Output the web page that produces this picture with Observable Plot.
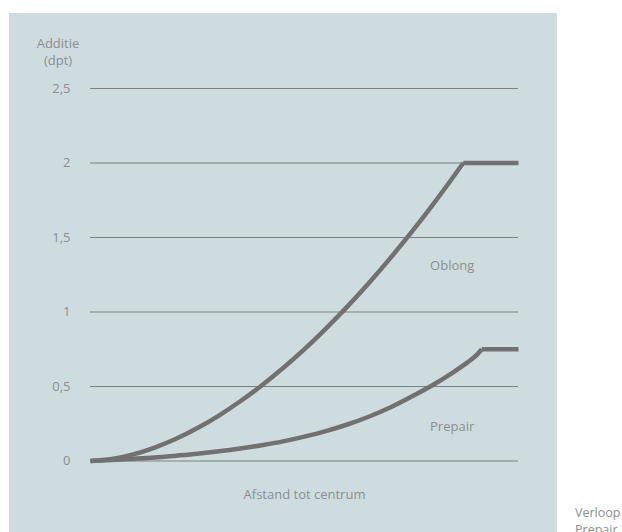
<!DOCTYPE html>
<html>
<head>
<meta charset="utf-8">
<script src="https://cdn.jsdelivr.net/npm/d3@7"></script>
<script src="https://cdn.jsdelivr.net/npm/@observablehq/plot@0.6"></script>
<style>
  html, body { margin: 0; padding: 0; background: #fff; width: 622px; height: 532px; overflow: hidden; }
  body { position: relative; font-family: "Open Sans", Lato, sans-serif; }
  #panel { position: absolute; left: 9px; top: 13px; width: 548px; height: 519px; background: #cfdcdf; }
  #ylabel { position: absolute; left: 14px; top: 22px; width: 70px; text-align: center; font-size: 13px; line-height: 17px; color: #8a8f91; }
  #side { position: absolute; left: 575px; top: 504px; font-size: 12.5px; line-height: 17px; color: #8a8f91; white-space: nowrap; }
</style>
</head>
<body>
<div id="panel"><div id="ylabel">Additie<br>(dpt)</div></div>
<div id="side">Verloop<br>Prepair</div>
<script>
// distance to centre (relative, 0–100) and addition (dpt)
const distanceOblong  = [0, 5, 10, 15, 20, 25, 30, 35, 40, 45, 50, 55, 60, 65, 70, 75, 80, 85, 87.1, 100];
const oblong          = [0, 0.013, 0.044, 0.09, 0.149, 0.221, 0.305, 0.401, 0.507, 0.624, 0.751, 0.889, 1.036, 1.193, 1.36, 1.536, 1.721, 1.916, 2.0, 2.0];
const distancePrepair = [0, 5, 10, 15, 20, 25, 30, 35, 40, 45, 50, 55, 60, 65, 70, 75, 80, 85, 88, 90, 91.4, 100];
const prepair         = [0, 0.007, 0.015, 0.024, 0.036, 0.049, 0.065, 0.084, 0.106, 0.132, 0.164, 0.201, 0.245, 0.297, 0.359, 0.432, 0.51, 0.6, 0.66, 0.705, 0.75, 0.75];
const yTicks = [0, 0.5, 1, 1.5, 2, 2.5];
const yTickLabels = ["0", "0,5", "1", "1,5", "2", "2,5"];
const seriesNames = ["Oblong", "Prepair"];
const seriesLabelPos = [{x: 84.5, y: 1.307}, {x: 84.5, y: 0.23}];
const xAxisTitle = "Afstand tot centrum";

// split each series into its rising part and its flat part (sharing the corner point)
function segments(name, xs, ys) {
  const out = [];
  const top = Math.max(...ys);
  const k = ys.indexOf(top);
  xs.forEach((d, i) => {
    if (i <= k) out.push({series: name, seg: name + "-rise", x: d, y: ys[i]});
    if (i >= k) out.push({series: name, seg: name + "-flat", x: d, y: ys[i]});
  });
  return out;
}
const rows = [
  ...segments("Oblong", distanceOblong, oblong),
  ...segments("Prepair", distancePrepair, prepair)
];
const labels = seriesNames.map((s, i) => ({name: s, ...seriesLabelPos[i]}));

const txt = "#8a8f91";
const chart = Plot.plot({
  width: 548,
  height: 519,
  marginLeft: 81,
  marginRight: 39,
  marginTop: 75,
  marginBottom: 71.5,
  style: {background: "transparent", fontFamily: "'Open Sans', Lato, sans-serif", fontSize: "13px", color: txt},
  x: {domain: [0, 100], axis: null},
  y: {domain: [0, 2.5], axis: null},
  marks: [
    Plot.ruleY(yTicks, {stroke: "#7b8182", strokeWidth: 1}),
    Plot.text(yTicks, {x: 0, y: d => d, text: (d, i) => yTickLabels[i], dx: -20, textAnchor: "end", fill: txt, fontSize: 13}),
    Plot.line(rows, {x: "x", y: "y", z: "seg", stroke: "#717171", strokeWidth: 4.5, curve: "monotone-x", strokeLinecap: "butt", strokeLinejoin: "miter"}),
    Plot.text(labels, {x: "x", y: "y", text: "name", fill: txt, fontSize: 13}),
    Plot.text([xAxisTitle], {x: 50, y: -0.225, text: d => d, fill: txt, fontSize: 13})
  ]
});
document.getElementById("panel").appendChild(chart);
chart.style.position = "absolute";
chart.style.left = "0px";
chart.style.top = "0px";
</script>
</body>
</html>
